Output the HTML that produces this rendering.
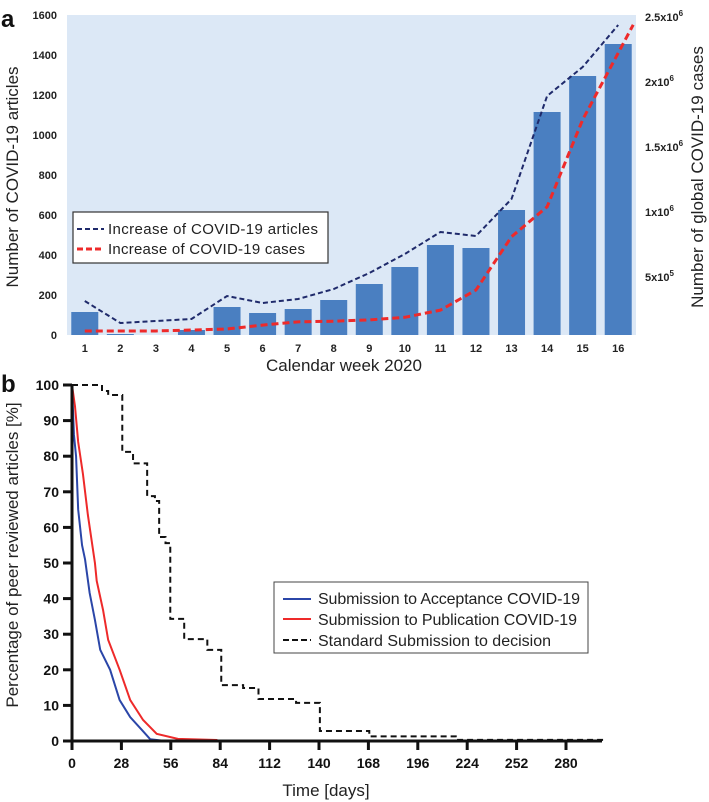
<!DOCTYPE html>
<html><head><meta charset="utf-8"><style>
html,body{margin:0;padding:0;background:#fff;}
svg{display:block;font-family:"Liberation Sans",sans-serif;}
.tk{font-weight:bold;font-size:11px;fill:#222;}
.tkb{font-weight:bold;font-size:14px;fill:#111;}
</style></head><body>
<svg id="fig" width="709" height="802" viewBox="0 0 709 802">
<g id="pa"></g>
<g id="pb"></g>
</svg>
<script>
// ---- Panel a data ----
const weeks = ["1","2","3","4","5","6","7","8","9","10","11","12","13","14","15","16"];
const articleCounts = [115,5,0,25,140,110,130,175,255,340,450,435,625,1115,1295,1455];
const articleLine = [170,60,70,80,195,160,180,230,310,405,515,495,680,1195,1340,1550];
const caseLine = [85000,85000,85000,92000,100000,130000,155000,160000,170000,190000,245000,400000,810000,1040000,1710000,2440000];
const leftTicks = [0,200,400,600,800,1000,1200,1400,1600];
const rightTickVals = [500000,1000000,1500000,2000000,2500000];
const rightTickLabels = [["5x10","5"],["1x10","6"],["1.5x10","6"],["2x10","6"],["2.5x10","6"]];
// ---- Panel b data ----
const xTicksB = [0,28,56,84,112,140,168,196,224,252,280];
const yTicksB = [0,10,20,30,40,50,60,70,80,90,100];
const accDays = [0,1.1,2.3,3.5,5.7,7.4,10,13,16,21.6,27,33,39.8,44.3,53];
const accPct  = [100,86,80,65,55,51,41.6,34,25.6,20,11.5,6.7,3,0.5,0];
const pubDays = [0,1.7,3.5,6.2,9,13,14,17.6,20.5,27,33,40.3,48,60,82,83];
const pubPct  = [100,94,84,75,63.5,50,45,36.8,28.4,20,11.5,5.9,2,0.6,0.3,0];
// step curve: after day stdDays[i], value becomes stdPct[i]
const stdDays = [0,17,20.5,28.5,34.6,42.6,47,49.4,53,55.7,63.6,76.7,84.6,97,105.7,127,140.5,168.5,217.5];
const stdPct  = [100,98.3,97.2,81.2,78,68.8,67.4,57.3,55.6,34.3,28.6,25.6,15.7,14.9,11.8,10.7,2.8,1.3,0.3];
const stdEndDay = 302;

const NS="http://www.w3.org/2000/svg";
function mk(parent,tag,attrs,txt){const e=document.createElementNS(NS,tag);for(const k in attrs)e.setAttribute(k,attrs[k]);if(txt!==undefined)e.textContent=txt;parent.appendChild(e);return e;}

// ===== Panel A =====
const pa=document.getElementById('pa');
const aL=67,aR=636,aT=15,aB=335;
const band=(aR-aL)/weeks.length;
const xA=i=>aL+band*(i+0.5);
const yA=v=>aB-(v/1600)*(aB-aT);
const yR=v=>342-(v/500000)*65;

let t=mk(pa,'text',{x:1,y:27,'font-size':'24','font-weight':'bold',fill:'#111'},'a');


let bg=mk(pa,'rect',{x:aL,y:aT,width:aR-aL,height:aB-aT,fill:'#dce8f6'});


leftTicks.forEach(v=>{
  const e=mk(pa,'text',{x:57,y:yA(v)+4,'text-anchor':'end',class:'tk'},String(v));
  
  
});
rightTickVals.forEach((v,i)=>{
  const e=mk(pa,'text',{x:645,y:yR(v)+4,class:'tk','font-weight':'normal'});
  
  
  mk(e,'tspan',{},rightTickLabels[i][0]);
  mk(e,'tspan',{dy:-5,'font-size':'8'},rightTickLabels[i][1]);
});
weeks.forEach((w,i)=>{
  const v=articleCounts[i];
  const r=mk(pa,'rect',{x:xA(i)-13.5,y:yA(v),width:27,height:aB-yA(v),fill:'#4a7fc1'});
  
  
  const e=mk(pa,'text',{x:xA(i),y:352,'text-anchor':'middle',class:'tk'},w);
  
  
});
let p1=mk(pa,'polyline',{points:articleLine.map((v,i)=>xA(i)+','+yA(v)).join(' '),fill:'none',stroke:'#1f2a6b','stroke-width':2,'stroke-dasharray':'5,3'});


let p2=mk(pa,'polyline',{points:caseLine.map((v,i)=>(xA(i)+(i==15?15:0))+','+yR(v)).join(' '),fill:'none',stroke:'#ee2a2a','stroke-width':3,'stroke-dasharray':'7,4'});


t=mk(pa,'text',{x:344,y:371,'text-anchor':'middle','font-size':'17',fill:'#222'},'Calendar week 2020');


t=mk(pa,'text',{transform:'translate(18,177) rotate(-90)','text-anchor':'middle','font-size':'17',fill:'#222'},'Number of COVID-19 articles');


t=mk(pa,'text',{transform:'translate(703,177) rotate(-90)','text-anchor':'middle','font-size':'17',fill:'#222'},'Number of global COVID-19 cases');


let lg=mk(pa,'g',{});


mk(lg,'rect',{x:73,y:212,width:255,height:51,fill:'#fff',stroke:'#333','stroke-width':1.2});
mk(lg,'line',{x1:77,y1:229,x2:104,y2:229,stroke:'#1f2a6b','stroke-width':2,'stroke-dasharray':'5,3'});
mk(lg,'line',{x1:77,y1:249,x2:104,y2:249,stroke:'#ee2a2a','stroke-width':3,'stroke-dasharray':'6,3'});
mk(lg,'text',{x:108,y:234,'font-size':'15',fill:'#222',textLength:210},'Increase of COVID-19 articles');
mk(lg,'text',{x:108,y:254,'font-size':'15',fill:'#222',textLength:197},'Increase of COVID-19 cases');

// ===== Panel B =====
const pb=document.getElementById('pb');
const bL=72,bB=741,bT=385;
const xB=d=>bL+d*(247/140);
const yB=p=>bB-p*(bB-bT)/100;
t=mk(pb,'text',{x:1,y:392,'font-size':'24','font-weight':'bold',fill:'#111'},'b');


function linePath(ds,ps){
  let d='M'+xB(ds[0])+','+yB(ps[0]);
  for(let i=1;i<ds.length;i++) d+=' L'+xB(ds[i])+','+yB(ps[i]);
  return d;
}
function stepPath(ds,ps,endDay){
  let d='M'+xB(ds[0])+','+yB(ps[0]);
  for(let i=1;i<ds.length;i++){ d+=' H'+xB(ds[i])+' V'+yB(ps[i]); }
  d+=' H'+xB(endDay);
  return d;
}
let s=mk(pb,'path',{d:stepPath(stdDays,stdPct,stdEndDay),fill:'none',stroke:'#111','stroke-width':2,'stroke-dasharray':'6,4'});


s=mk(pb,'path',{d:linePath(pubDays,pubPct),fill:'none',stroke:'#ee2a2a','stroke-width':2});


s=mk(pb,'path',{d:linePath(accDays,accPct),fill:'none',stroke:'#2b46a8','stroke-width':2});


let ax=mk(pb,'path',{d:'M'+bL+','+(bT-1)+' V'+bB+' H602',fill:'none',stroke:'#111','stroke-width':3});


yTicksB.forEach(v=>{
  mk(pb,'line',{x1:63,x2:bL,y1:yB(v),y2:yB(v),stroke:'#111','stroke-width':3});
  const e=mk(pb,'text',{x:59,y:yB(v)+5,'text-anchor':'end',class:'tkb'},String(v));
  
  
});
xTicksB.forEach(v=>{
  mk(pb,'line',{x1:xB(v),x2:xB(v),y1:bB,y2:bB+9,stroke:'#111','stroke-width':3});
  const e=mk(pb,'text',{x:xB(v),y:768,'text-anchor':'middle',class:'tkb'},String(v));
  
  
});
t=mk(pb,'text',{x:326,y:796,'text-anchor':'middle','font-size':'17',fill:'#222'},'Time [days]');


t=mk(pb,'text',{transform:'translate(18,555) rotate(-90)','text-anchor':'middle','font-size':'17',fill:'#222'},'Percentage of peer reviewed articles [%]');


let lb=mk(pb,'g',{});


mk(lb,'rect',{x:274,y:582,width:314,height:71,fill:'#fff',stroke:'#444','stroke-width':1});
mk(lb,'line',{x1:283,y1:599,x2:311,y2:599,stroke:'#2b46a8','stroke-width':2});
mk(lb,'line',{x1:283,y1:619,x2:311,y2:619,stroke:'#ee2a2a','stroke-width':2});
mk(lb,'line',{x1:283,y1:640,x2:311,y2:640,stroke:'#111','stroke-width':2,'stroke-dasharray':'6,3'});
mk(lb,'text',{x:318,y:604,'font-size':'16',fill:'#222',textLength:262},'Submission to Acceptance COVID-19');
mk(lb,'text',{x:318,y:625,'font-size':'16',fill:'#222',textLength:259},'Submission to Publication COVID-19');
mk(lb,'text',{x:318,y:646,'font-size':'16',fill:'#222',textLength:233},'Standard Submission to decision');
</script>
</body></html>
